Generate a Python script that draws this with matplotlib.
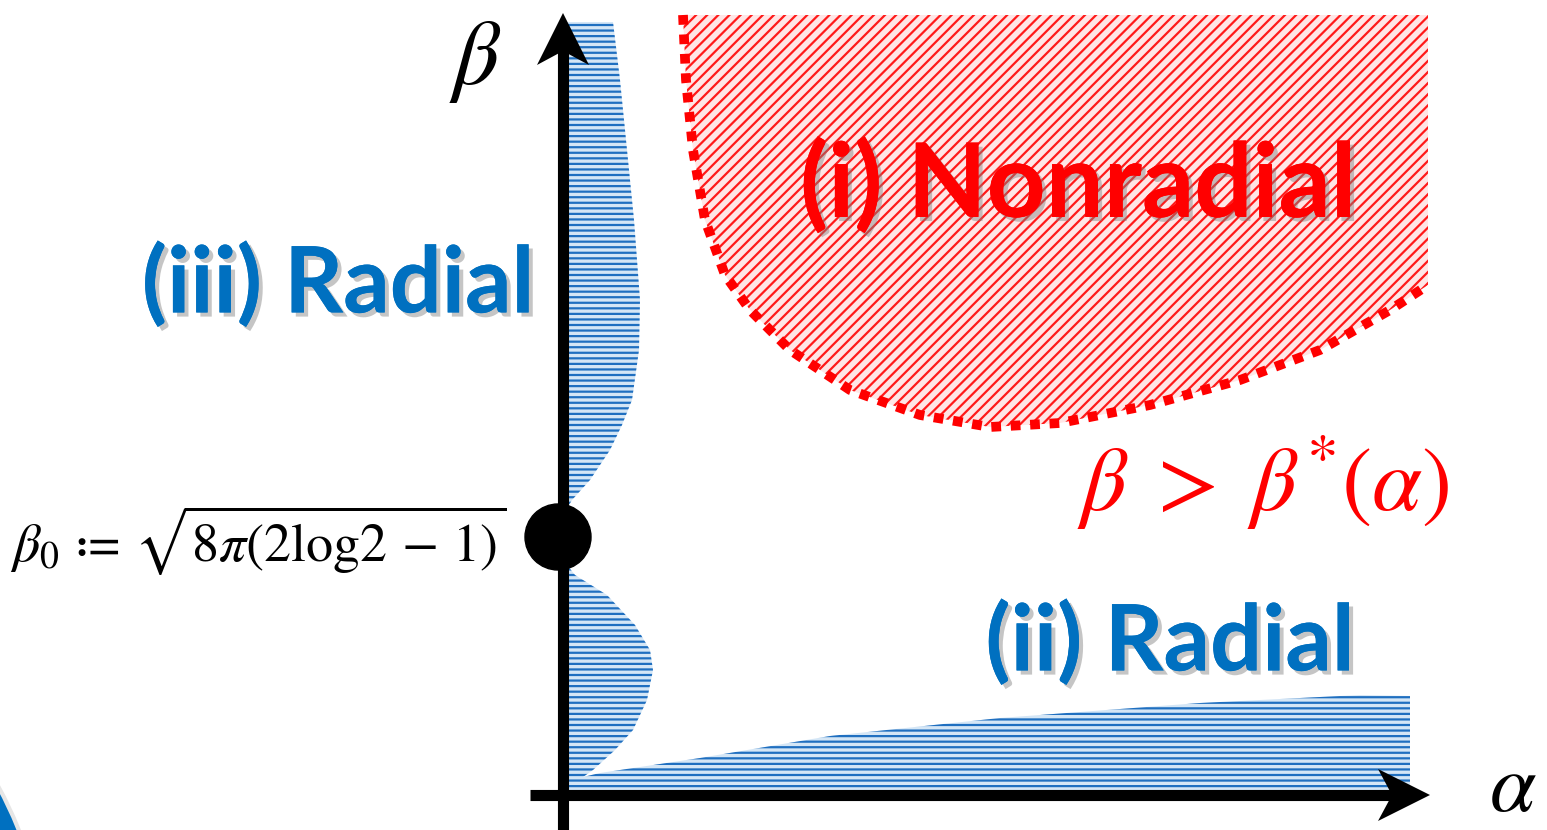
import numpy as np
import matplotlib.pyplot as plt
from matplotlib.patches import Polygon, Circle
import matplotlib.patheffects as pe

plt.rcParams['mathtext.fontset'] = 'stix'
plt.rcParams['hatch.linewidth'] = 1.6

# boundary of the nonradial region (alpha, beta)
red_alpha = [120, 123, 130, 142, 162, 187, 227, 287, 357, 427, 497, 587, 677, 757, 827, 865]
red_beta = [780, 715, 645, 575, 520, 485, 445, 405, 380, 368, 372, 390, 415, 445, 485, 510]
red_top = 780

# (iii) radial region above beta_0: width along the beta axis
upper_beta = [773, 715, 645, 575, 495, 445, 395, 370, 345, 315, 295, 280]
upper_alpha = [50, 57, 64, 71, 77, 76, 69, 59, 47, 27, 9, 0]

# (iii) lower lobe below beta_0
lobe_beta = [235, 220, 200, 170, 145, 125, 95, 65, 45, 25, 18]
lobe_alpha = [0, 12, 44, 72, 87, 90, 84, 70, 52, 30, 20]

# (ii) radial region along the alpha axis
low_alpha = [37, 137, 267, 437, 637, 797, 847]
low_beta = [22, 37, 59, 77, 92, 100, 99]

beta0 = 258

fig = plt.figure(figsize=(15.47, 8.30), dpi=100)
ax = fig.add_axes([0, 0, 1, 1])
ax.set_xlim(-563, 984)
ax.set_ylim(-35, 795)
ax.axis('off')

# slide decoration peeking in at the bottom-left corner
ax.add_patch(Circle((-963, -205), 452, facecolor='#0070c0', edgecolor='#e6e6e6', lw=3,
                    zorder=0))

# nonradial hatched region
rx = red_alpha + [red_alpha[-1], red_alpha[0]]
ry = red_beta + [red_top, red_top]
ax.add_patch(Polygon(np.column_stack([rx, ry]), closed=True, facecolor='#ffe6e6',
                     edgecolor='#ff1a1a', hatch='///', linewidth=0, zorder=1))
ax.plot(red_alpha, red_beta, color='#ff0000', lw=7, linestyle=(0, (1, 1.0)),
        solid_capstyle='butt', dash_capstyle='butt', zorder=2)

blue_kw = dict(closed=True, facecolor='#d4e6f6', edgecolor='#1f6fc0', hatch='---',
               linewidth=0, zorder=1)
ux = upper_alpha + [0]
uy = upper_beta + [upper_beta[0]]
ax.add_patch(Polygon(np.column_stack([[0] + ux, [upper_beta[0]] + uy]), **blue_kw))
bx = lobe_alpha + low_alpha + [low_alpha[-1], 0]
by = lobe_beta + low_beta + [0, 0]
ax.add_patch(Polygon(np.column_stack([bx, by]), **blue_kw))


def arrow(tip, d, length=52, half=26, notch=14):
    d = np.array(d, float)
    n = np.array([-d[1], d[0]])
    tip = np.array(tip, float)
    base = tip - d * length
    pts = [tip, base + n * half, tip - d * (length - notch), base - n * half]
    ax.add_patch(Polygon(pts, closed=True, color='black', lw=0, zorder=4))


# axes
ax.plot([0, 0], [-40, 760], color='black', lw=8, solid_capstyle='butt', zorder=3)
ax.plot([-33, 830], [0, 0], color='black', lw=8, solid_capstyle='butt', zorder=3)
arrow((0, 782), (0, 1))
arrow((867, 0), (1, 0))

ax.add_patch(Circle((-5, beta0), 33, color='black', zorder=5))

shadow = [pe.withSimplePatchShadow(offset=(3, -3), shadow_rgbFace='#808080', alpha=0.45),
          pe.Normal()]
ax.text(515, 610, '(i) Nonradial', color='#ff0000', fontsize=74, fontweight='bold',
        family='Lato', ha='center', va='center', path_effects=shadow, zorder=6)
ax.text(-225, 510, '(iii) Radial', color='#0070c0', fontsize=66, fontweight='bold',
        family='Lato', ha='center', va='center', path_effects=shadow, zorder=6)
ax.text(607, 152, '(ii) Radial', color='#0070c0', fontsize=66, fontweight='bold',
        family='Lato', ha='center', va='center', path_effects=shadow, zorder=6)

ax.text(700, 312, r'$\beta\;>\;\beta^{*}(\alpha)$', color='#ff0000', fontsize=65,
        ha='center', va='center', zorder=6)
ax.text(-88, 735, r'$\beta$', color='black', fontsize=66, ha='center', va='center')
ax.text(950, -33, r'$\alpha$', color='black', fontsize=60, ha='center', va='bottom')
ax.text(-553, 254, r'$\beta_0\,\coloneq\,\sqrt{8\pi(2\mathrm{log}2\,-\,1)}$', color='black',
        fontsize=39, ha='left', va='center')

fig.savefig('out.png', dpi=100)
